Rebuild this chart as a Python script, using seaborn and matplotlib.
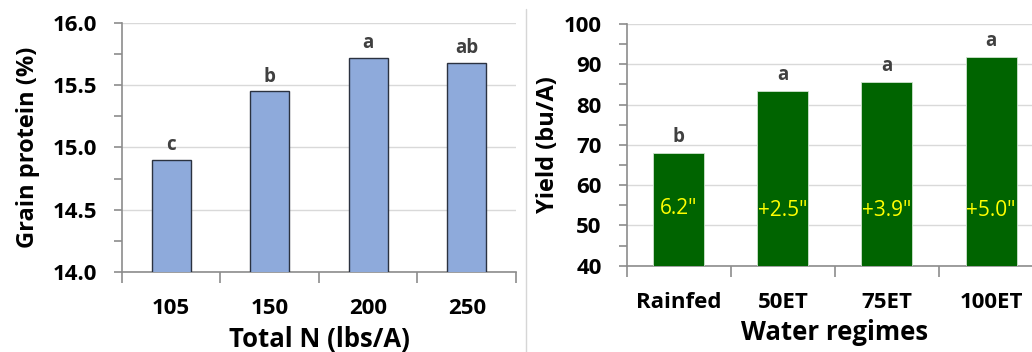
import matplotlib
matplotlib.use("Agg")
import matplotlib.pyplot as plt
from matplotlib.ticker import MultipleLocator, FixedLocator
from matplotlib.lines import Line2D
import pandas as pd
import seaborn as sns

# Grain protein by total nitrogen rate
n_rates = ["105", "150", "200", "250"]
protein = [14.9, 15.45, 15.72, 15.68]
protein_groups = ["c", "b", "a", "ab"]

# Yield by irrigation water regime
regimes = ["Rainfed", "50ET", "75ET", "100ET"]
yields = [67.9, 83.4, 85.5, 91.7]
yield_groups = ["b", "a", "a", "a"]
water_added = ['6.2"', '+2.5"', '+3.9"', '+5.0"']

sns.set_theme(style="white")
plt.rcParams["font.family"] = ["Open Sans", "DejaVu Sans"]
plt.rcParams["font.weight"] = "bold"
plt.rcParams["axes.labelweight"] = "bold"

SPINE = "#8c8c8c"
GRID = "#d9d9d9"
LETTER = "#404040"

fig = plt.figure(figsize=(10.32, 3.52), dpi=100)
ax1 = fig.add_axes([0.1182, 0.2273, 0.3818, 0.7074])
ax2 = fig.add_axes([0.6073, 0.2452, 0.4034, 0.6866])

df1 = pd.DataFrame({"n": n_rates, "protein": protein})
df2 = pd.DataFrame({"regime": regimes, "yield": yields})

sns.barplot(data=df1, x="n", y="protein", ax=ax1, color="#8eaadb",
            saturation=1, width=0.4, edgecolor="#2b3240", linewidth=1.0,
            zorder=3)
sns.barplot(data=df2, x="regime", y="yield", ax=ax2, color="#006400",
            saturation=1, width=0.49, edgecolor="#cfe3cf", linewidth=0.6,
            zorder=3)


def style_axis(ax, ymin, ymax, major, minor, fmt):
    ax.set_ylim(ymin, ymax)
    ax.set_xlim(-0.5, 3.5)
    ax.yaxis.set_major_locator(MultipleLocator(major))
    ax.yaxis.set_minor_locator(MultipleLocator(minor))
    ax.yaxis.set_major_formatter(fmt)
    ax.grid(axis="y", which="major", color=GRID, linewidth=1.0, zorder=0)
    ax.set_axisbelow(True)
    for side in ("top", "right"):
        ax.spines[side].set_visible(False)
    for side in ("left", "bottom"):
        ax.spines[side].set_color(SPINE)
        ax.spines[side].set_linewidth(1.2)
    ax.tick_params(axis="y", which="both", direction="out", length=6,
                   width=1.2, color=SPINE, left=True, pad=12,
                   labelsize=16, labelcolor="black")
    # category boundaries carry the tick marks, centres carry the labels
    ax.xaxis.set_minor_locator(FixedLocator([-0.5, 0.5, 1.5, 2.5, 3.5]))
    ax.tick_params(axis="x", which="major", length=0, pad=19, labelsize=16,
                   labelcolor="black")
    ax.tick_params(axis="x", which="minor", direction="out", length=8,
                   width=1.2, color=SPINE, bottom=True)


style_axis(ax1, 14.0, 16.0, 0.5, 0.25, "{x:.1f}")
style_axis(ax2, 40, 100, 10, 5, "{x:.0f}")

ax1.set_xlabel("Total N (lbs/A)", fontsize=18.5, color="black", labelpad=5)
ax1.set_ylabel("Grain protein (%)", fontsize=17, color="black", labelpad=9)
ax2.set_xlabel("Water regimes", fontsize=18.5, color="black", labelpad=4)
ax2.set_ylabel("Yield (bu/A)", fontsize=17, color="black", labelpad=3)

# significance letters above the bars
for i, (v, g) in enumerate(zip(protein, protein_groups)):
    ax1.annotate(g, (i, v), xytext=(0, 7), textcoords="offset points",
                 ha="center", va="baseline", fontsize=13.5, color=LETTER)
for i, (v, g) in enumerate(zip(yields, yield_groups)):
    ax2.annotate(g, (i, v), xytext=(0, 8), textcoords="offset points",
                 ha="center", va="baseline", fontsize=13.5, color=LETTER)

# water applied, written inside the yield bars
for i, w in enumerate(water_added):
    ax2.text(i, 54.3 if i == 0 else 53.8, w, ha="center", va="center",
             fontsize=15, fontweight="normal", color="#ffff00", zorder=4)

# thin divider between the two panels
fig.add_artist(Line2D([526 / 1032, 526 / 1032], [0.0, 0.975],
                      transform=fig.transFigure, color="#d6d6d6",
                      linewidth=1.0))

fig.savefig("out.png", dpi=100)
